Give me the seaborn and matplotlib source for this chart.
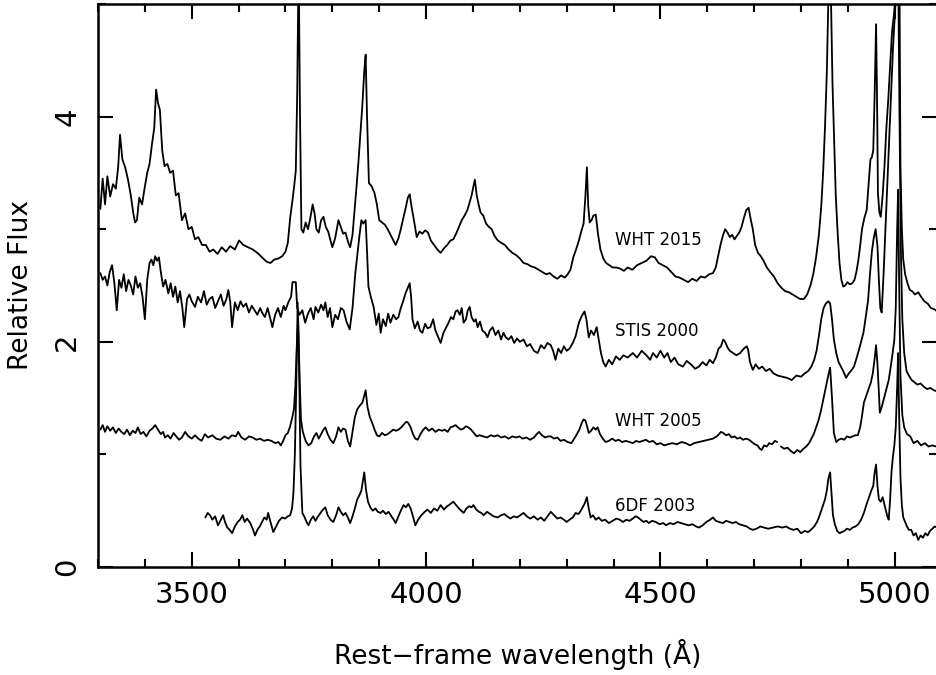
import numpy as np
import pandas as pd
import matplotlib
matplotlib.use("Agg")
import matplotlib.pyplot as plt
import seaborn as sns
from matplotlib.ticker import MultipleLocator

# spectra (rest-frame wavelength in Angstrom, relative flux)
wht2015_wl = [
    3305, 3310, 3315, 3320, 3326, 3332, 3338, 3343, 3347, 3352,
    3358, 3364, 3370, 3375, 3379, 3383, 3388, 3394, 3400, 3405,
    3410, 3415, 3420, 3424, 3428, 3432, 3437, 3442, 3448, 3454,
    3460, 3466, 3472, 3479, 3486, 3493, 3500, 3507, 3514, 3522,
    3530, 3538, 3546, 3555, 3564, 3573, 3582, 3592, 3601, 3610,
    3620, 3630, 3640, 3650, 3660, 3668, 3676, 3685, 3693, 3700,
    3705, 3710, 3715, 3719, 3722, 3725, 3728, 3731, 3734, 3738,
    3743, 3748, 3753, 3758, 3762, 3766, 3771, 3776, 3781, 3786,
    3791, 3796, 3800, 3806, 3813, 3818, 3823, 3828, 3834, 3838,
    3843, 3848, 3852, 3856, 3860, 3864, 3868, 3871, 3874, 3878,
    3884, 3890, 3895, 3900, 3906, 3912, 3918, 3924, 3930, 3935,
    3941, 3946, 3952, 3957, 3961, 3965, 3969, 3974, 3980, 3986,
    3992, 3998, 4004, 4010, 4017, 4024, 4031, 4038, 4045, 4052,
    4058, 4064, 4070, 4076, 4082, 4088, 4093, 4097, 4101, 4104,
    4108, 4112, 4116, 4122, 4128, 4134, 4140, 4146, 4153, 4160,
    4168, 4176, 4184, 4192, 4200, 4208, 4216, 4224, 4232, 4240,
    4248, 4256, 4264, 4272, 4280, 4288, 4296, 4302, 4308, 4314,
    4320, 4326, 4331, 4336, 4340, 4343, 4346, 4349, 4353, 4357,
    4362, 4367, 4372, 4378, 4384, 4391, 4398, 4406, 4414, 4422,
    4430, 4440, 4450, 4460, 4470, 4480, 4488, 4496, 4505, 4514,
    4523, 4532, 4541, 4550, 4559, 4568, 4577, 4586, 4595, 4604,
    4612, 4618, 4623, 4628, 4633, 4638, 4643, 4648, 4653, 4658,
    4663, 4668, 4673, 4678, 4683, 4688, 4692, 4697, 4702, 4708,
    4714, 4720, 4727, 4734, 4742, 4750, 4758, 4766, 4774, 4782,
    4790, 4798, 4806, 4813, 4820, 4826, 4832, 4838, 4843, 4847,
    4851, 4855, 4858, 4861, 4864, 4867, 4870, 4874, 4878, 4882,
    4886, 4890, 4894, 4899, 4904, 4909, 4914, 4918, 4922, 4926,
    4930, 4935, 4940, 4944, 4948, 4951, 4954, 4957, 4960, 4962,
    4964, 4967, 4970, 4974, 4978, 4982, 4986, 4990, 4994, 4998,
    5002, 5005, 5007, 5009, 5012, 5015, 5018, 5022, 5027, 5032,
    5037, 5043, 5050, 5056, 5063, 5070, 5077, 5084, 5090,
]
wht2015_fx = [
    3.18, 3.45, 3.22, 3.47, 3.29, 3.40, 3.36, 3.55, 3.84, 3.62,
    3.55, 3.44, 3.30, 3.15, 3.06, 3.08, 3.28, 3.22, 3.38, 3.50,
    3.58, 3.75, 3.90, 4.24, 4.12, 4.06, 3.70, 3.56, 3.58, 3.50,
    3.52, 3.30, 3.32, 3.08, 3.14, 3.00, 3.02, 2.91, 2.93, 2.86,
    2.86, 2.80, 2.82, 2.78, 2.84, 2.80, 2.85, 2.82, 2.90, 2.86,
    2.84, 2.82, 2.79, 2.75, 2.71, 2.70, 2.73, 2.74, 2.76, 2.80,
    2.88, 3.10, 3.26, 3.40, 3.52, 4.20, 5.40, 4.00, 3.00, 2.97,
    3.06, 3.00, 3.10, 3.22, 3.14, 3.00, 2.97, 3.08, 3.11, 3.02,
    2.98, 2.90, 2.84, 2.92, 3.08, 3.02, 2.96, 2.97, 2.88, 2.84,
    2.95, 3.20, 3.40, 3.62, 3.86, 4.10, 4.40, 4.55, 4.00, 3.41,
    3.38, 3.32, 3.22, 3.08, 3.06, 3.04, 3.00, 2.95, 2.90, 2.86,
    2.92, 3.00, 3.11, 3.20, 3.28, 3.31, 3.20, 3.08, 2.93, 2.98,
    2.96, 2.99, 2.97, 2.90, 2.86, 2.82, 2.79, 2.83, 2.86, 2.90,
    2.91, 2.96, 3.02, 3.08, 3.12, 3.17, 3.24, 3.30, 3.38, 3.44,
    3.30, 3.22, 3.15, 3.12, 3.05, 3.02, 3.00, 2.94, 2.90, 2.88,
    2.86, 2.82, 2.79, 2.77, 2.74, 2.70, 2.69, 2.67, 2.66, 2.64,
    2.62, 2.60, 2.61, 2.58, 2.56, 2.59, 2.57, 2.60, 2.64, 2.75,
    2.82, 2.90, 2.98, 3.05, 3.30, 3.55, 3.20, 3.06, 3.08, 3.12,
    3.13, 2.95, 2.82, 2.74, 2.70, 2.68, 2.66, 2.66, 2.65, 2.63,
    2.66, 2.64, 2.68, 2.70, 2.72, 2.76, 2.75, 2.70, 2.68, 2.66,
    2.62, 2.58, 2.57, 2.55, 2.53, 2.56, 2.54, 2.58, 2.57, 2.60,
    2.61, 2.66, 2.76, 2.86, 2.94, 3.00, 2.97, 2.93, 2.95, 2.91,
    2.94, 2.97, 3.02, 3.10, 3.17, 3.19, 3.10, 3.00, 2.86, 2.79,
    2.76, 2.72, 2.66, 2.62, 2.58, 2.52, 2.48, 2.45, 2.44, 2.42,
    2.40, 2.38, 2.38, 2.42, 2.50, 2.60, 2.75, 2.95, 3.20, 3.50,
    3.90, 4.40, 5.00, 5.60, 5.00, 4.30, 3.86, 3.30, 2.97, 2.70,
    2.55, 2.49, 2.50, 2.53, 2.51, 2.52, 2.55, 2.62, 2.72, 2.85,
    3.00, 3.10, 3.17, 3.40, 3.62, 3.64, 3.70, 4.20, 4.82, 4.20,
    3.32, 3.15, 3.11, 3.30, 3.56, 3.90, 4.15, 4.45, 4.75, 4.90,
    5.10, 6.50, 7.50, 6.00, 3.56, 3.00, 2.73, 2.60, 2.52, 2.46,
    2.45, 2.42, 2.44, 2.40, 2.36, 2.34, 2.30, 2.29, 2.27,
]

stis2000_wl = [
    3305, 3310, 3315, 3320, 3325, 3330, 3335, 3340, 3345, 3350,
    3355, 3360, 3365, 3370, 3375, 3380, 3385, 3390, 3395, 3400,
    3405, 3410, 3414, 3418, 3422, 3426, 3430, 3434, 3439, 3444,
    3450, 3455, 3460, 3465, 3470, 3475, 3480, 3484, 3490, 3495,
    3500, 3507, 3513, 3520, 3526, 3532, 3538, 3544, 3550, 3556,
    3562, 3568, 3574, 3578, 3582, 3586, 3592, 3598, 3604, 3610,
    3616, 3622, 3628, 3634, 3640, 3646, 3650, 3656, 3662, 3668,
    3672, 3678, 3684, 3690, 3696, 3700, 3706, 3712, 3715, 3722,
    3725, 3730, 3736, 3742, 3748, 3754, 3760, 3764, 3770, 3776,
    3781, 3785, 3790, 3795, 3800, 3806, 3812, 3818, 3824, 3830,
    3837, 3843, 3849, 3854, 3858, 3862, 3866, 3871, 3874, 3877,
    3882, 3888, 3894, 3899, 3903, 3908, 3914, 3919, 3924, 3930,
    3936, 3941, 3946, 3951, 3956, 3961, 3965, 3968, 3971, 3976,
    3982, 3987, 3992, 3998, 4003, 4009, 4015, 4020, 4026, 4031,
    4037, 4042, 4048, 4053, 4058, 4063, 4067, 4072, 4076, 4080,
    4085, 4089, 4093, 4097, 4102, 4106, 4110, 4115, 4120, 4126,
    4131, 4136, 4142, 4148, 4154, 4160, 4165, 4170, 4176, 4182,
    4188, 4194, 4200, 4208, 4215, 4222, 4230, 4238, 4245, 4252,
    4259, 4266, 4271, 4276, 4282, 4288, 4294, 4300, 4306, 4313,
    4319, 4326, 4331, 4335, 4338, 4342, 4347, 4352, 4358, 4364,
    4369, 4373, 4378, 4383, 4390, 4397, 4405, 4413, 4421, 4430,
    4441, 4450, 4460, 4470, 4478, 4484, 4492, 4500, 4508, 4515,
    4522, 4530, 4538, 4548, 4556, 4565, 4574, 4582, 4590, 4598,
    4605, 4612, 4618, 4624, 4629, 4634, 4638, 4643, 4648, 4655,
    4662, 4670, 4678, 4684, 4687, 4691, 4697, 4703, 4710, 4717,
    4725, 4733, 4741, 4750, 4760, 4770, 4780, 4790, 4800, 4808,
    4815, 4822, 4828, 4833, 4838, 4843, 4848, 4853, 4858, 4862,
    4866, 4870, 4875, 4880, 4885, 4890, 4896, 4902, 4908, 4913,
    4918, 4923, 4928, 4933, 4938, 4943, 4947, 4951, 4955, 4959,
    4963, 4966, 4969, 4972, 4976, 4980, 4984, 4988, 4992, 4996,
    5000, 5004, 5007, 5010, 5013, 5016, 5020, 5025, 5030, 5036,
    5042, 5048, 5055, 5062, 5069, 5076, 5083, 5090,
]
stis2000_fx = [
    2.61, 2.55, 2.58, 2.50, 2.62, 2.68, 2.52, 2.28, 2.55, 2.48,
    2.60, 2.45, 2.55, 2.50, 2.42, 2.58, 2.48, 2.52, 2.40, 2.20,
    2.55, 2.70, 2.73, 2.68, 2.76, 2.72, 2.75, 2.62, 2.49, 2.55,
    2.43, 2.52, 2.40, 2.49, 2.35, 2.45, 2.30, 2.13, 2.38, 2.42,
    2.36, 2.31, 2.40, 2.35, 2.45, 2.33, 2.38, 2.40, 2.30, 2.36,
    2.42, 2.32, 2.38, 2.46, 2.36, 2.13, 2.35, 2.28, 2.36, 2.31,
    2.34, 2.26, 2.32, 2.28, 2.24, 2.30, 2.26, 2.22, 2.30, 2.20,
    2.13, 2.24, 2.30, 2.22, 2.32, 2.28, 2.35, 2.40, 2.53, 2.53,
    2.30, 2.24, 2.28, 2.17, 2.25, 2.30, 2.20, 2.31, 2.26, 2.33,
    2.28, 2.35, 2.22, 2.30, 2.13, 2.24, 2.20, 2.30, 2.28, 2.18,
    2.11, 2.30, 2.61, 2.80, 2.95, 3.08, 3.05, 3.08, 2.80, 2.49,
    2.40, 2.31, 2.15, 2.25, 2.08, 2.20, 2.14, 2.25, 2.17, 2.24,
    2.20, 2.22, 2.30, 2.36, 2.43, 2.48, 2.52, 2.40, 2.20, 2.12,
    2.18, 2.10, 2.08, 2.16, 2.12, 2.13, 2.20, 2.10, 2.04, 1.99,
    2.08, 2.12, 2.17, 2.22, 2.20, 2.27, 2.28, 2.24, 2.30, 2.17,
    2.20, 2.28, 2.31, 2.22, 2.18, 2.20, 2.13, 2.18, 2.10, 2.08,
    2.04, 2.10, 2.13, 2.06, 2.10, 2.02, 2.08, 2.04, 2.02, 2.05,
    1.99, 2.03, 2.00, 2.02, 1.96, 1.98, 1.92, 1.90, 1.97, 1.94,
    1.99, 1.97, 1.92, 1.84, 1.94, 1.90, 1.96, 1.92, 1.94, 1.99,
    2.05, 2.17, 2.22, 2.25, 2.27, 2.20, 2.04, 2.10, 2.06, 2.13,
    2.00, 1.90, 1.82, 1.78, 1.84, 1.80, 1.87, 1.84, 1.88, 1.86,
    1.90, 1.86, 1.92, 1.88, 1.84, 1.90, 1.86, 1.92, 1.86, 1.90,
    1.82, 1.86, 1.80, 1.78, 1.83, 1.80, 1.76, 1.78, 1.82, 1.79,
    1.84, 1.81, 1.86, 1.94, 1.96, 2.02, 2.00, 1.95, 1.92, 1.90,
    1.88, 1.90, 1.94, 1.96, 1.93, 1.82, 1.75, 1.80, 1.76, 1.78,
    1.74, 1.76, 1.72, 1.70, 1.69, 1.68, 1.66, 1.70, 1.69, 1.72,
    1.74, 1.78, 1.84, 1.92, 2.05, 2.20, 2.30, 2.34, 2.36, 2.34,
    2.20, 2.02, 1.90, 1.82, 1.78, 1.74, 1.68, 1.72, 1.75, 1.78,
    1.85, 1.92, 2.00, 2.08, 2.22, 2.37, 2.60, 2.80, 2.92, 3.00,
    2.85, 2.55, 2.30, 2.26, 2.60, 3.00, 3.40, 3.80, 4.20, 4.60,
    4.90, 5.20, 5.40, 4.00, 2.80, 2.20, 1.90, 1.74, 1.70, 1.66,
    1.64, 1.62, 1.63, 1.60, 1.58, 1.59, 1.57, 1.56,
]

# WHT 2005 has a short gap near 4750 A, so it is kept as two pieces
wht2005a_wl = [
    3305, 3310, 3315, 3320, 3326, 3332, 3338, 3344, 3350, 3356,
    3362, 3368, 3374, 3380, 3385, 3391, 3397, 3403, 3410, 3416,
    3422, 3428, 3434, 3439, 3443, 3449, 3455, 3461, 3467, 3473,
    3479, 3486, 3493, 3500, 3507, 3514, 3521, 3528, 3535, 3544,
    3552, 3561, 3570, 3578, 3586, 3594, 3599, 3606, 3614, 3622,
    3630, 3638, 3646, 3654, 3662, 3670, 3678, 3685, 3690, 3695,
    3700, 3705, 3710, 3714, 3718, 3721, 3724, 3727, 3730, 3733,
    3737, 3743, 3749, 3755, 3761, 3766, 3771, 3776, 3781, 3785,
    3790, 3796, 3802, 3808, 3813, 3818, 3823, 3828, 3833, 3838,
    3843, 3848, 3853, 3858, 3864, 3868, 3871, 3875, 3880, 3885,
    3890, 3895, 3900, 3906, 3912, 3918, 3924, 3930, 3936, 3941,
    3947, 3953, 3958, 3962, 3967, 3972, 3977, 3982, 3988, 3994,
    3999, 4006, 4013, 4020, 4027, 4034, 4040, 4046, 4052, 4058,
    4063, 4068, 4074, 4080, 4085, 4090, 4096, 4102, 4108, 4114,
    4122, 4130, 4138, 4146, 4153, 4160, 4168, 4176, 4184, 4192,
    4199, 4206, 4214, 4222, 4230, 4236, 4241, 4247, 4254, 4260,
    4266, 4273, 4280, 4287, 4294, 4302, 4310, 4319, 4327, 4332,
    4336, 4340, 4344, 4347, 4352, 4357, 4362, 4366, 4371, 4377,
    4383, 4390, 4397, 4404, 4411, 4418, 4426, 4434, 4441, 4448,
    4455, 4462, 4469, 4476, 4484, 4492, 4500, 4508, 4516, 4525,
    4535, 4545, 4554, 4563, 4572, 4582, 4592, 4603, 4612, 4620,
    4625, 4629, 4634, 4640, 4646, 4652, 4658, 4664, 4670, 4676,
    4683, 4689, 4695, 4701, 4707, 4712, 4716, 4721, 4727, 4732,
    4738, 4744, 4749,
]
wht2005a_fx = [
    1.22, 1.26, 1.20, 1.25, 1.21, 1.24, 1.19, 1.23, 1.20, 1.18,
    1.22, 1.17, 1.21, 1.19, 1.24, 1.18, 1.20, 1.16, 1.21, 1.23,
    1.26, 1.22, 1.18, 1.20, 1.15, 1.17, 1.14, 1.19, 1.16, 1.13,
    1.15, 1.20, 1.16, 1.14, 1.17, 1.14, 1.12, 1.18, 1.15, 1.17,
    1.14, 1.13, 1.16, 1.14, 1.17, 1.16, 1.20, 1.15, 1.13, 1.16,
    1.15, 1.13, 1.14, 1.12, 1.13, 1.12, 1.10, 1.11, 1.08, 1.12,
    1.17, 1.19, 1.25, 1.32, 1.40, 1.60, 1.95, 2.20, 1.70, 1.31,
    1.20, 1.12, 1.08, 1.10, 1.16, 1.19, 1.14, 1.18, 1.22, 1.24,
    1.18, 1.13, 1.10, 1.16, 1.24, 1.20, 1.23, 1.22, 1.12, 1.07,
    1.20, 1.33, 1.40, 1.43, 1.46, 1.52, 1.57, 1.42, 1.33, 1.28,
    1.22, 1.17, 1.16, 1.19, 1.17, 1.18, 1.20, 1.22, 1.21, 1.22,
    1.24, 1.27, 1.29, 1.28, 1.24, 1.18, 1.14, 1.13, 1.18, 1.22,
    1.24, 1.21, 1.23, 1.20, 1.22, 1.21, 1.22, 1.20, 1.24, 1.25,
    1.26, 1.24, 1.22, 1.23, 1.25, 1.24, 1.22, 1.19, 1.16, 1.17,
    1.16, 1.15, 1.17, 1.16, 1.17, 1.15, 1.16, 1.14, 1.16, 1.15,
    1.16, 1.14, 1.15, 1.13, 1.15, 1.18, 1.20, 1.17, 1.15, 1.16,
    1.16, 1.14, 1.15, 1.12, 1.13, 1.11, 1.10, 1.16, 1.22, 1.28,
    1.31, 1.30, 1.24, 1.19, 1.21, 1.24, 1.22, 1.24, 1.18, 1.14,
    1.11, 1.12, 1.14, 1.12, 1.13, 1.11, 1.12, 1.11, 1.10, 1.12,
    1.11, 1.12, 1.13, 1.11, 1.12, 1.09, 1.10, 1.08, 1.09, 1.10,
    1.09, 1.11, 1.10, 1.08, 1.10, 1.11, 1.12, 1.13, 1.14, 1.16,
    1.18, 1.20, 1.19, 1.17, 1.18, 1.15, 1.16, 1.14, 1.15, 1.13,
    1.14, 1.13, 1.11, 1.09, 1.08, 1.05, 1.04, 1.08, 1.07, 1.10,
    1.09, 1.12, 1.11,
]
wht2005b_wl = [
    4757, 4764, 4771, 4778, 4785, 4792, 4798, 4805, 4811, 4817,
    4822, 4827, 4832, 4837, 4842, 4847, 4852, 4856, 4859, 4862,
    4866, 4870, 4875, 4880, 4886, 4892, 4898, 4904, 4910, 4916,
    4921, 4926, 4930, 4934, 4939, 4944, 4949, 4953, 4957, 4960,
    4963, 4966, 4968, 4972, 4977, 4982, 4987, 4992, 4996, 4999,
    5002, 5005, 5007, 5009, 5012, 5016, 5020, 5026, 5033, 5040,
    5048, 5056, 5064, 5072, 5080, 5088,
]
wht2005b_fx = [
    1.07, 1.05, 1.06, 1.03, 1.01, 1.04, 1.02, 1.05, 1.07, 1.10,
    1.14, 1.18, 1.24, 1.30, 1.38, 1.48, 1.58, 1.66, 1.72, 1.77,
    1.50, 1.19, 1.11, 1.13, 1.14, 1.13, 1.16, 1.15, 1.16, 1.17,
    1.17, 1.24, 1.34, 1.46, 1.52, 1.58, 1.64, 1.72, 1.85, 1.97,
    1.80, 1.55, 1.37, 1.42, 1.50, 1.58, 1.66, 1.80, 1.92, 2.02,
    2.30, 3.00, 3.35, 2.60, 1.70, 1.35, 1.24, 1.18, 1.16, 1.10,
    1.12, 1.08, 1.10, 1.07, 1.08, 1.07,
]

sixdf2003_wl = [
    3529, 3534, 3539, 3544, 3550, 3556, 3562, 3567, 3571, 3576,
    3581, 3586, 3592, 3598, 3603, 3608, 3613, 3618, 3625, 3630,
    3635, 3640, 3645, 3650, 3655, 3660, 3663, 3668, 3674, 3680,
    3686, 3693, 3699, 3705, 3710, 3714, 3717, 3720, 3723, 3726,
    3729, 3732, 3736, 3741, 3745, 3749, 3754, 3759, 3764, 3768,
    3773, 3778, 3785, 3790, 3796, 3802, 3808, 3813, 3818, 3823,
    3828, 3833, 3838, 3843, 3848, 3853, 3858, 3862, 3865, 3868,
    3872, 3876, 3881, 3886, 3892, 3897, 3903, 3908, 3914, 3920,
    3926, 3931, 3935, 3940, 3946, 3952, 3957, 3962, 3967, 3972,
    3977, 3983, 3990, 3997, 4003, 4010, 4017, 4024, 4031, 4038,
    4045, 4052, 4058, 4064, 4070, 4075, 4080, 4086, 4092, 4097,
    4101, 4107, 4113, 4118, 4123, 4130, 4137, 4144, 4153, 4160,
    4167, 4173, 4180, 4187, 4194, 4201, 4208, 4215, 4222, 4230,
    4238, 4245, 4252, 4259, 4266, 4273, 4280, 4287, 4294, 4300,
    4306, 4313, 4319, 4325, 4330, 4334, 4338, 4343, 4347, 4351,
    4356, 4362, 4368, 4375, 4382, 4390, 4398, 4406, 4413, 4420,
    4427, 4434, 4441, 4447, 4452, 4458, 4464, 4470, 4475, 4482,
    4490, 4498, 4506, 4512, 4520, 4528, 4536, 4544, 4552, 4560,
    4568, 4576, 4582, 4590, 4598, 4606, 4612, 4618, 4625, 4633,
    4640, 4647, 4654, 4661, 4668, 4676, 4684, 4691, 4697, 4705,
    4713, 4721, 4730, 4740, 4750, 4760, 4768, 4776, 4784, 4792,
    4800, 4808, 4815, 4821, 4828, 4834, 4838, 4843, 4847, 4851,
    4855, 4858, 4862, 4865, 4868, 4872, 4877, 4882, 4887, 4892,
    4898, 4904, 4910, 4916, 4922, 4928, 4934, 4940, 4945, 4950,
    4954, 4957, 4960, 4963, 4966, 4970, 4974, 4977, 4981, 4984,
    4987, 4990, 4993, 4996, 4999, 5002, 5005, 5007, 5009, 5012,
    5015, 5018, 5022, 5026, 5030, 5035, 5040, 5045, 5050, 5055,
    5060, 5065, 5070, 5075, 5080, 5085, 5090,
]
sixdf2003_fx = [
    0.44, 0.48, 0.46, 0.42, 0.45, 0.37, 0.42, 0.46, 0.40, 0.35,
    0.33, 0.30, 0.36, 0.40, 0.42, 0.46, 0.40, 0.43, 0.39, 0.34,
    0.28, 0.33, 0.36, 0.40, 0.44, 0.42, 0.48, 0.40, 0.31, 0.36,
    0.41, 0.44, 0.43, 0.45, 0.46, 0.52, 0.66, 1.00, 1.60, 2.35,
    1.80, 0.90, 0.48, 0.44, 0.40, 0.37, 0.42, 0.45, 0.41, 0.44,
    0.47, 0.50, 0.53, 0.46, 0.42, 0.40, 0.46, 0.53, 0.49, 0.46,
    0.48, 0.44, 0.39, 0.45, 0.52, 0.60, 0.64, 0.68, 0.76, 0.84,
    0.68, 0.58, 0.53, 0.50, 0.52, 0.49, 0.48, 0.50, 0.47, 0.49,
    0.45, 0.42, 0.39, 0.44, 0.50, 0.55, 0.53, 0.56, 0.52, 0.45,
    0.37, 0.42, 0.46, 0.49, 0.51, 0.48, 0.52, 0.50, 0.55, 0.51,
    0.54, 0.56, 0.58, 0.55, 0.52, 0.50, 0.48, 0.52, 0.54, 0.53,
    0.55, 0.51, 0.49, 0.48, 0.46, 0.49, 0.47, 0.45, 0.44, 0.46,
    0.47, 0.45, 0.43, 0.45, 0.44, 0.46, 0.48, 0.45, 0.43, 0.45,
    0.42, 0.44, 0.41, 0.45, 0.49, 0.46, 0.43, 0.44, 0.42, 0.40,
    0.42, 0.44, 0.48, 0.47, 0.50, 0.53, 0.56, 0.62, 0.52, 0.44,
    0.46, 0.42, 0.44, 0.41, 0.42, 0.39, 0.41, 0.43, 0.42, 0.40,
    0.42, 0.41, 0.43, 0.45, 0.44, 0.42, 0.40, 0.41, 0.39, 0.41,
    0.40, 0.38, 0.39, 0.37, 0.39, 0.38, 0.40, 0.39, 0.38, 0.37,
    0.38, 0.36, 0.35, 0.37, 0.40, 0.42, 0.44, 0.41, 0.40, 0.39,
    0.41, 0.40, 0.39, 0.40, 0.38, 0.37, 0.36, 0.34, 0.33, 0.34,
    0.36, 0.35, 0.34, 0.35, 0.36, 0.35, 0.36, 0.34, 0.33, 0.34,
    0.30, 0.32, 0.31, 0.33, 0.36, 0.40, 0.44, 0.50, 0.55, 0.60,
    0.68, 0.78, 0.84, 0.65, 0.46, 0.38, 0.32, 0.30, 0.31, 0.32,
    0.34, 0.33, 0.35, 0.36, 0.38, 0.42, 0.48, 0.56, 0.62, 0.68,
    0.72, 0.84, 0.91, 0.72, 0.60, 0.58, 0.62, 0.57, 0.50, 0.45,
    0.42, 0.60, 0.85, 0.98, 1.08, 1.24, 1.60, 1.90, 1.40, 0.80,
    0.55, 0.44, 0.40, 0.36, 0.33, 0.33, 0.28, 0.30, 0.24, 0.28,
    0.26, 0.30, 0.28, 0.32, 0.34, 0.36, 0.35,
]

# label text and where it sits (wavelength, flux)
label_names = ["WHT 2015", "STIS 2000", "WHT 2005", "6DF 2003"]
label_wl = [4403, 4403, 4403, 4403]
label_fx = [2.90, 2.10, 1.30, 0.54]

pieces = [
    ("wht2015", wht2015_wl, wht2015_fx),
    ("stis2000", stis2000_wl, stis2000_fx),
    ("wht2005a", wht2005a_wl, wht2005a_fx),
    ("wht2005b", wht2005b_wl, wht2005b_fx),
    ("6df2003", sixdf2003_wl, sixdf2003_fx),
]
frames = []
for name, wl, fx in pieces:
    assert len(wl) == len(fx), name
    frames.append(pd.DataFrame({"wl": wl, "flux": fx, "seg": name}))
df = pd.concat(frames, ignore_index=True)

sns.set_style("ticks")
plt.rcParams["font.family"] = ["DejaVu Sans"]
plt.rcParams.update({"text.color": "black", "axes.labelcolor": "black",
                     "xtick.color": "black", "ytick.color": "black",
                     "axes.edgecolor": "black"})

fig = plt.figure(figsize=(9.36, 6.75), dpi=100)
ax = fig.add_axes([98 / 936, 108 / 675, 839 / 936, 563 / 675])

sns.lineplot(data=df, x="wl", y="flux", units="seg", estimator=None,
             sort=False, color="black", lw=1.3, ax=ax, legend=False)

for name, x, y in zip(label_names, label_wl, label_fx):
    ax.text(x, y, name, fontsize=12, va="center", ha="left", color="black")

ax.set_xlim(3300, 5090)
ax.set_ylim(0, 5)
ax.xaxis.set_major_locator(MultipleLocator(500))
ax.xaxis.set_minor_locator(MultipleLocator(100))
ax.yaxis.set_major_locator(MultipleLocator(2))
ax.yaxis.set_minor_locator(MultipleLocator(1))
ax.tick_params(which="both", direction="in", top=True, right=True,
               width=1.5, colors="black")
ax.tick_params(which="major", length=11, labelsize=21)
ax.tick_params(axis="x", which="major", pad=10)
ax.tick_params(axis="y", which="major", pad=12)
for lab in ax.get_yticklabels():
    lab.set_rotation(90)
    lab.set_va("center")
ax.tick_params(which="minor", length=6)
for sp in ax.spines.values():
    sp.set_linewidth(1.8)
    sp.set_color("black")

ax.set_xlabel("Rest\u2212frame wavelength (\u00c5)", fontsize=19, labelpad=22)
ax.set_ylabel("Relative Flux", fontsize=19, labelpad=14)

fig.savefig("out.png", dpi=100)
